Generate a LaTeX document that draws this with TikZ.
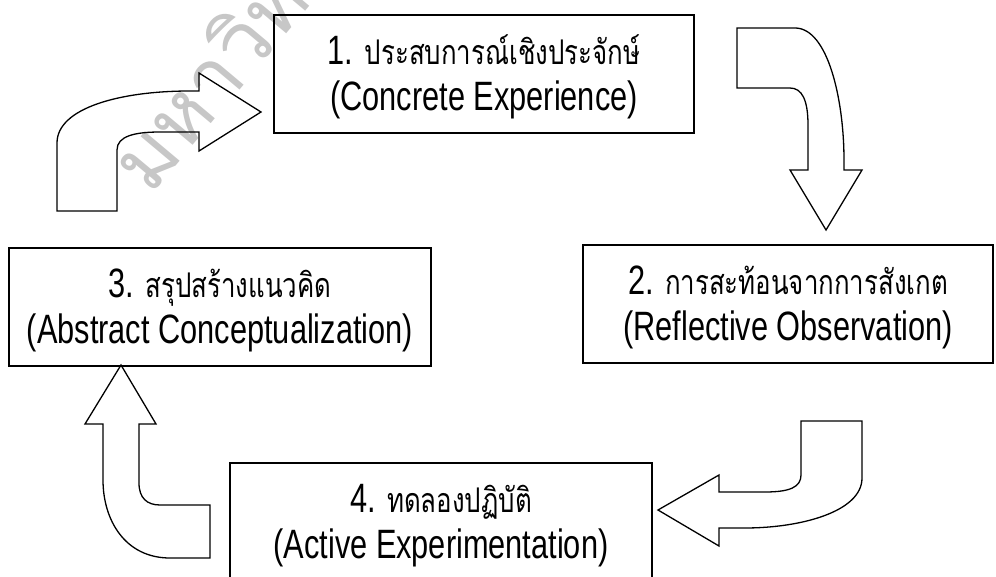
\documentclass[tikz,border=0pt]{standalone}
\usepackage{fontspec}
\usetikzlibrary{calc}
\newfontfamily\latfont[FakeStretch=0.75]{Liberation Sans}
\newfontfamily\thaifont[Script=Thai,FakeStretch=0.76]{Loma}
\newfontfamily\wmfont[Script=Thai]{Loma}
\begin{document}
\begin{tikzpicture}[x=1pt,y=-1pt,
  stagebox/.style={draw=black, line width=1.3pt, minimum width=#1, minimum height=118pt, inner sep=0pt},
  blockarrow/.style={draw=black, line width=1.3pt, line join=miter},
  lineone/.style={anchor=base, inner sep=0pt},
  linetwo/.style={anchor=base, inner sep=0pt, font=\latfont\fontsize{41}{44}\selectfont},
  wmark/.style={rotate=50, anchor=base west, inner sep=0pt, text=black!22, font=\wmfont\fontsize{82}{82}\selectfont}
]
\useasboundingbox (0,0) rectangle (996,577);

% watermark
\node[wmark] (wm) at (150,197) {มหาวิทยาลัย};

% boxes
\node[stagebox=420pt] (b1) at (484,74) {};
\node[stagebox=410pt] (b2) at (788,304) {};
\node[stagebox=422pt] (b3) at (220,307) {};
\node[stagebox=422pt] (b4) at (441,522) {};

% texts
\node[lineone] (t1a) at ($(b1.north)+(0,50)$) {\latfont\fontsize{41}{44}\selectfont 1. \thaifont\fontsize{34}{40}\selectfont ประสบการณ์เชิงประจักษ์};
\node[linetwo] (t1b) at ($(b1.north)+(0,96)$) {(Concrete Experience)};
\node[lineone] (t2a) at ($(b2.north)+(0,50)$) {\latfont\fontsize{41}{44}\selectfont 2. \thaifont\fontsize{34}{40}\selectfont การสะท้อนจากการสังเกต};
\node[linetwo] (t2b) at ($(b2.north)+(0,96)$) {(Reflective Observation)};
\node[lineone] (t3a) at ($(b3.north)+(0,50)$) {\latfont\fontsize{41}{44}\selectfont 3. \thaifont\fontsize{34}{40}\selectfont สรุปสร้างแนวคิด};
\node[linetwo] (t3b) at ($(b3.north)+(0,96)$) {(Abstract Conceptualization)};
\node[lineone] (t4a) at ($(b4.north)+(0,50)$) {\latfont\fontsize{41}{44}\selectfont 4. \thaifont\fontsize{34}{40}\selectfont ทดลองปฏิบัติ};
\node[linetwo] (t4b) at ($(b4.north)+(0,96)$) {(Active Experimentation)};

% block arrow: 3 -> 1 (top left)
\draw[blockarrow] (57,211) -- (57,143) .. controls (57,108) and (120,91) .. (190,91) -- (199,91)
  -- (199,73) -- (261,112) -- (199,151) -- (199,132) -- (160,132)
  .. controls (135,132) and (117,136) .. (117,150) -- (117,211) -- cycle;

% block arrow: 1 -> 2 (top right)
\draw[blockarrow] (737,28) -- (795,28) .. controls (828,28) and (844,100) .. (844,160) -- (844,170)
  -- (862,170) -- (826,230) -- (790,170) -- (808,170) -- (808,125)
  .. controls (808,100) and (802,88) .. (790,88) -- (737,88) -- cycle;

% block arrow: 2 -> 4 (bottom right)
\draw[blockarrow] (801,421) -- (862,421) -- (862,478) .. controls (862,512) and (800,528) .. (745,528) -- (719,528)
  -- (719,546) -- (658,510) -- (719,475) -- (719,492) -- (765,492)
  .. controls (790,492) and (801,487) .. (801,475) -- cycle;

% block arrow: 4 -> 3 (bottom left)
\draw[blockarrow] (121,365) -- (156,424) -- (139,424) -- (139,483)
  .. controls (139,498) and (147,505) .. (160,505) -- (210,505) -- (210,558) -- (170,558)
  .. controls (125,558) and (103,520) .. (103,480) -- (103,424) -- (85,424) -- cycle;
\end{tikzpicture}
\end{document}
